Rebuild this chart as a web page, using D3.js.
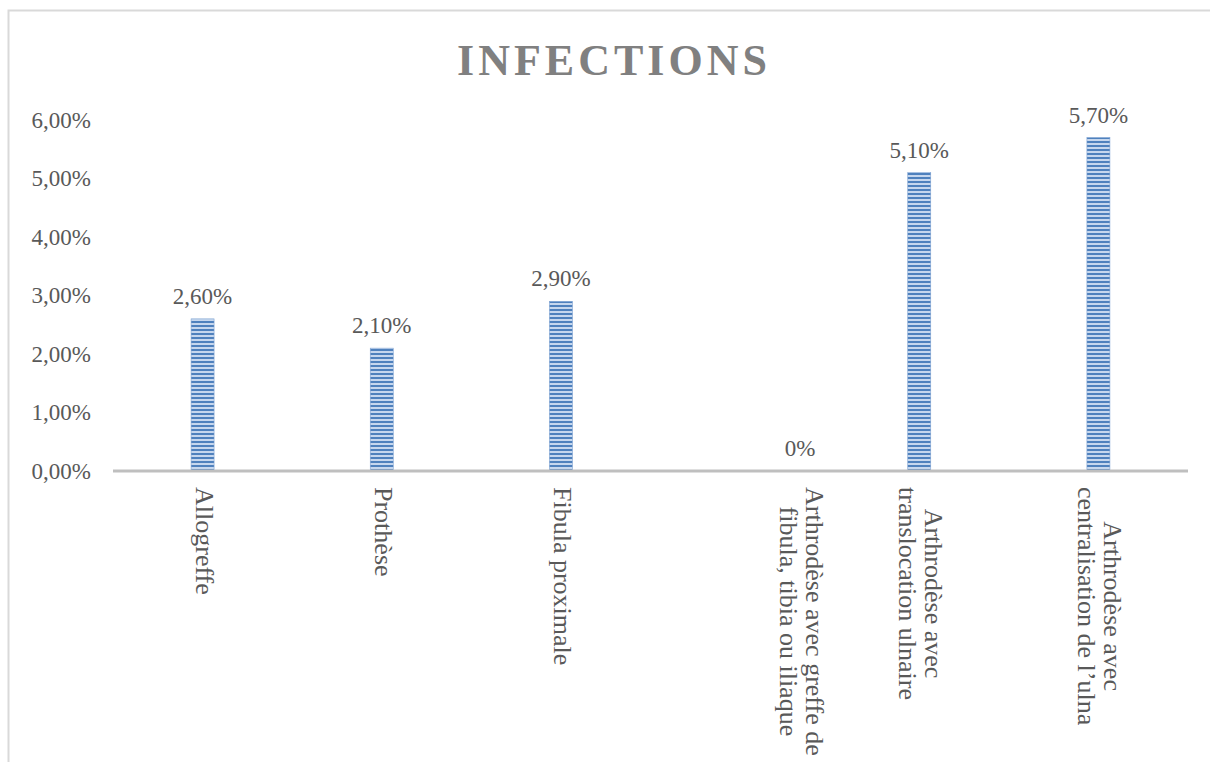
<!DOCTYPE html>
<html>
<head>
<meta charset="utf-8">
<script src="https://cdn.jsdelivr.net/npm/d3@7"></script>
<style>
  body { margin: 0; background: #fff; }
  svg { display: block; }
</style>
</head>
<body>
<svg id="chart" width="1210" height="762"></svg>
<script>
/* Data */
var categories = [
  ["Allogreffe"],
  ["Prothèse"],
  ["Fibula proximale"],
  ["Arthrodèse avec greffe de", "fibula, tibia ou iliaque"],
  ["Arthrodèse avec", "translocation ulnaire"],
  ["Arthrodèse avec", "centralisation de l\u2019ulna"]
];
var values = [2.6, 2.1, 2.9, 0, 5.1, 5.7];
var valueLabels = ["2,60%", "2,10%", "2,90%", "0%", "5,10%", "5,70%"];
var yTicks = [0, 1, 2, 3, 4, 5, 6];

/* Settings */
var set = {
  left: 113, right: 1188, top: 120, bottom: 471,
  textColor: "#595959",
  serif: "'Liberation Serif', 'DejaVu Serif', serif",
  barWidth: 23,
  labelShift: [0, 0, 0, 60, 0, 0]   // the empty category's labels sit off to the right
};

var svg = d3.select("svg#chart");

/* Outer frame (only top and left visible) */
svg.append("path")
  .attr("d", "M8.5,762 L8.5,10.5 L1210,10.5")
  .attr("fill", "none")
  .attr("stroke", "#d9d9d9")
  .attr("stroke-width", 2);

/* Stripe pattern */
var pat = svg.append("defs").append("pattern")
  .attr("id", "stripes")
  .attr("patternUnits", "userSpaceOnUse")
  .attr("width", 8).attr("height", 4);
pat.append("rect").attr("width", 8).attr("height", 4).attr("fill", "#c6d7ee");
pat.append("rect").attr("y", 1).attr("width", 8).attr("height", 2).attr("fill", "#4f81bd");

var x = d3.scaleBand()
  .domain(d3.range(categories.length))
  .range([set.left, set.right]);

var y = d3.scaleLinear()
  .domain([0, 6])
  .range([set.bottom, set.top]);

/* Title */
svg.append("text")
  .text("INFECTIONS")
  .attr("x", 614)
  .attr("y", 75)
  .attr("text-anchor", "middle")
  .style("font-family", set.serif)
  .style("font-weight", "bold")
  .style("font-size", "44px")
  .style("letter-spacing", "4px")
  .style("fill", "#808080");

/* Y axis labels */
var yAxis = svg.append("g")
  .attr("transform", `translate(${set.left - 22},0)`)
  .call(d3.axisLeft(y).tickValues(yTicks).tickSize(0).tickPadding(0)
    .tickFormat(d => d3.format(".2f")(d).replace(".", ",") + "%"));
yAxis.select(".domain").remove();
yAxis.selectAll("text")
  .style("font-family", set.serif)
  .style("font-size", "23px")
  .style("fill", set.textColor);

/* Bars */
svg.selectAll(".bar")
  .data(values)
  .enter()
  .append("rect")
  .attr("class", "bar")
  .attr("x", (d, i) => x(i) + x.bandwidth() / 2 - set.barWidth / 2)
  .attr("y", d => y(d))
  .attr("width", set.barWidth)
  .attr("height", d => y(0) - y(d))
  .attr("fill", "url(#stripes)")
  .attr("stroke", d => d > 0 ? "#7fa3d3" : "none")
  .attr("stroke-width", 0.6);

/* Baseline */
svg.append("line")
  .attr("x1", set.left).attr("x2", set.right)
  .attr("y1", y(0)).attr("y2", y(0))
  .attr("stroke", "#bfbfbf")
  .attr("stroke-width", 3);

/* Value labels */
svg.selectAll(".val")
  .data(values)
  .enter()
  .append("text")
  .attr("class", "val")
  .text((d, i) => valueLabels[i])
  .attr("x", (d, i) => x(i) + x.bandwidth() / 2 + set.labelShift[i])
  .attr("y", d => y(d) - 15)
  .attr("text-anchor", "middle")
  .style("font-family", set.serif)
  .style("font-size", "23px")
  .style("fill", set.textColor);

/* Category labels, rotated to read top to bottom */
var lineH = 26;
var cat = svg.selectAll(".cat")
  .data(categories)
  .enter()
  .append("text")
  .attr("class", "cat")
  .attr("transform", (d, i) => {
    var cx = x(i) + x.bandwidth() / 2 + set.labelShift[i] - 7;
    return `translate(${cx},487) rotate(90)`;
  })
  .style("font-family", set.serif)
  .style("font-size", "26px")
  .style("fill", set.textColor);

cat.each(function(lines) {
  var t = d3.select(this);
  var n = lines.length;
  lines.forEach((ln, k) => {
    t.append("tspan")
      .text(ln)
      .attr("x", 0)
      .attr("y", (k - (n - 1) / 2) * lineH);   // first line ends up on the right
  });
  /* centre shorter lines on the longest one */
  var widths = [];
  t.selectAll("tspan").each(function() { widths.push(this.getComputedTextLength()); });
  var maxW = d3.max(widths);
  t.selectAll("tspan").attr("x", (d, k) => (maxW - widths[k]) / 2);
});
</script>
</body>
</html>
